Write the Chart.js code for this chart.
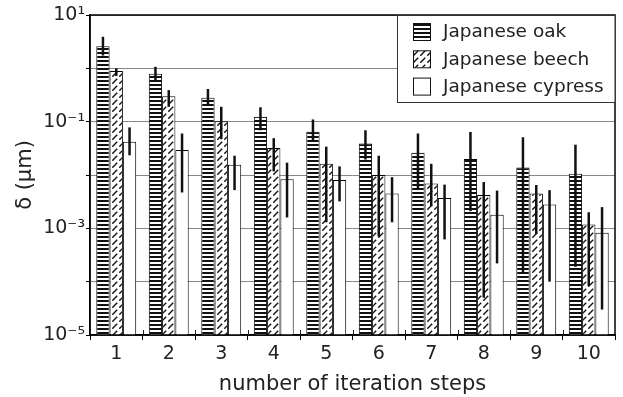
<!DOCTYPE html>
<html>
<head>
<meta charset="utf-8">
<script src="https://cdn.jsdelivr.net/npm/chart.js@4.4.1/dist/chart.umd.min.js"></script>
<style>
html, body { margin: 0; padding: 0; background: #fff; }
#wrap { width: 623px; height: 397px; }
</style>
</head>
<body>
<div id="wrap"><canvas id="chart" width="623" height="397"></canvas></div>
<script>
var steps = ['1', '2', '3', '4', '5', '6', '7', '8', '9', '10'];

// mean values (um)
var oak     = [2.6, 0.79, 0.28, 0.123, 0.065, 0.039, 0.026, 0.020, 0.0138, 0.0105];
var oakHi   = [3.9, 1.07, 0.41, 0.186, 0.11, 0.069, 0.060, 0.064, 0.051, 0.037];
var oakLo   = [1.74, 0.60, 0.21, 0.069, 0.042, 0.0195, 0.0055, 0.0021, 0.00015, 0.00019];

var beech   = [0.89, 0.30, 0.102, 0.032, 0.0162, 0.010, 0.0069, 0.0042, 0.0045, 0.00118];
var beechHi = [1.0, 0.39, 0.19, 0.049, 0.034, 0.023, 0.0162, 0.0074, 0.0065, 0.0020];
var beechLo = [0.72, 0.19, 0.047, 0.0117, 0.0013, 0.0007, 0.0026, 0.00005, 0.00078, 0.000083];

var cypress   = [0.042, 0.0295, 0.0155, 0.0083, 0.0081, 0.0045, 0.0037, 0.0018, 0.0028, 0.00083];
var cypressHi = [0.078, 0.060, 0.023, 0.017, 0.0145, 0.0091, 0.0066, 0.0051, 0.0052, 0.0025];
var cypressLo = [0.0234, 0.0047, 0.0052, 0.0016, 0.0032, 0.0013, 0.00062, 0.00022, 0.0001, 0.00003];

var yTicks = [-5, -4, -3, -2, -1, 0, 1];

var FONT = '"DejaVu Sans", Verdana, sans-serif';

function stripes() {
  var c = document.createElement('canvas');
  c.width = 4; c.height = 4;
  var g = c.getContext('2d');
  g.fillStyle = '#fff'; g.fillRect(0, 0, 4, 4);
  g.fillStyle = '#111'; g.fillRect(0, 0, 4, 2);
  return g.createPattern(c, 'repeat');
}

function hatch() {
  var c = document.createElement('canvas');
  c.width = 7; c.height = 7;
  var g = c.getContext('2d');
  g.fillStyle = '#fff'; g.fillRect(0, 0, 7, 7);
  g.strokeStyle = '#111'; g.lineWidth = 1.4;
  g.beginPath(); g.moveTo(0.3, 6.7); g.lineTo(5.2, 1.8); g.stroke();
  return g.createPattern(c, 'repeat');
}

var sup = { '-': '\u207B', '1': '\u00B9', '3': '\u00B3', '5': '\u2075' };
function power(e) {
  return '10' + String(e).split('').map(function (ch) { return sup[ch]; }).join('');
}

var errorBars = {
  id: 'errorBars',
  afterDatasetsDraw: function (chart) {
    var ctx = chart.ctx, y = chart.scales.y;
    ctx.save();
    ctx.strokeStyle = '#111';
    ctx.lineWidth = 2.5;
    chart.data.datasets.forEach(function (ds, i) {
      chart.getDatasetMeta(i).data.forEach(function (bar, j) {
        ctx.beginPath();
        ctx.moveTo(bar.x, y.getPixelForValue(ds.errLo[j]));
        ctx.lineTo(bar.x, y.getPixelForValue(ds.errHi[j]));
        ctx.stroke();
      });
    });
    ctx.restore();
  }
};

// frame round the plot and the boxed legend in its top right corner
var frameLegend = {
  id: 'frameLegend',
  afterDraw: function (chart) {
    var a = chart.chartArea, ctx = chart.ctx;
    ctx.save();
    ctx.strokeStyle = '#000';
    ctx.lineWidth = 1.5;
    ctx.strokeRect(a.left, a.top, a.right - a.left, a.bottom - a.top);

    // category ticks reach a little way up into the plot
    var x = chart.scales.x;
    ctx.lineWidth = 1;
    ctx.strokeStyle = '#222';
    for (var k = 1; k < steps.length; k++) {
      var px = Math.round((x.getPixelForTick(k - 1) + x.getPixelForTick(k)) / 2) + 0.5;
      ctx.beginPath();
      ctx.moveTo(px, a.bottom - 5);
      ctx.lineTo(px, a.bottom);
      ctx.stroke();
    }

    var w = 218, h = 87, lx = a.right - w, ly = a.top;
    ctx.fillStyle = '#fff';
    ctx.fillRect(lx, ly, w, h);
    ctx.lineWidth = 1;
    ctx.strokeStyle = '#333';
    ctx.strokeRect(lx + 0.5, ly + 0.5, w - 0.5, h);

    ctx.font = '18.5px ' + FONT;
    ctx.textBaseline = 'middle';
    chart.data.datasets.forEach(function (ds, i) {
      var cy = ly + 16.5 + i * 27.3;
      ctx.fillStyle = ds.backgroundColor;
      ctx.fillRect(lx + 16, cy - 8.5, 17, 17);
      ctx.strokeStyle = '#111';
      ctx.strokeRect(lx + 16.5, cy - 8, 17, 17);
      ctx.fillStyle = '#222';
      ctx.fillText(ds.label, lx + 46, cy + 1);
    });
    ctx.restore();
  }
};

var ctx = document.getElementById('chart');

function series(label, values, lo, hi, fill) {
  return {
    label: label,
    data: values,
    errLo: lo,
    errHi: hi,
    backgroundColor: fill,
    borderColor: '#000',
    borderWidth: 1,
    barPercentage: 1,
    categoryPercentage: 0.76
  };
}

var chart = new Chart(ctx, {
  type: 'bar',
  data: {
    labels: steps,
    datasets: [
      series('Japanese oak', oak, oakLo, oakHi, stripes()),
      series('Japanese beech', beech, beechLo, beechHi, hatch()),
      series('Japanese cypress', cypress, cypressLo, cypressHi, '#fff')
    ]
  },
  options: {
    responsive: false,
    animation: false,
    devicePixelRatio: 1,
    layout: { padding: { top: 15, right: 8, left: 0, bottom: 0 } },
    plugins: {
      legend: { display: false },
      tooltip: { enabled: false }
    },
    scales: {
      x: {
        grid: { drawOnChartArea: false, offset: true, tickLength: 5, color: '#000' },
        border: { color: '#000', width: 1.5 },
        ticks: { font: { family: FONT, size: 19 }, color: '#222', padding: 3 },
        title: {
          display: true,
          text: 'number of iteration steps',
          font: { family: FONT, size: 21 },
          color: '#222',
          padding: { top: 0, bottom: 0 }
        },
        afterFit: function (s) { s.height = 62; }
      },
      y: {
        type: 'logarithmic',
        min: 1e-5,
        max: 10,
        afterBuildTicks: function (s) {
          s.ticks = yTicks.map(function (e) { return { value: Math.pow(10, e) }; });
        },
        ticks: {
          autoSkip: false,
          padding: 1,
          font: { family: FONT, size: 19 },
          color: '#222',
          callback: function (v) {
            var e = Math.round(Math.log10(v));
            return e % 2 !== 0 ? power(e) : '';
          }
        },
        grid: { color: '#888', lineWidth: 1, tickLength: 4, tickColor: '#000' },
        border: { color: '#000', width: 1.5 },
        title: {
          display: true,
          text: 'δ (μm)',
          font: { family: FONT, size: 21 },
          color: '#222',
          padding: { top: 13, bottom: 0 }
        },
        afterFit: function (s) { s.width = 90; }
      }
    }
  },
  plugins: [errorBars, frameLegend]
});
</script>
</body>
</html>
